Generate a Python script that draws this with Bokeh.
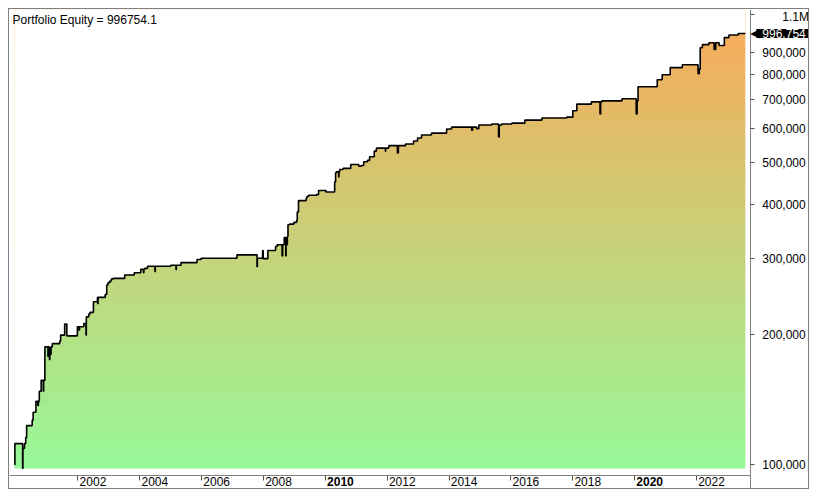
import numpy as np
from bokeh.plotting import figure
from bokeh.models import Range1d, FixedTicker, Label, LinearAxis, NumeralTickFormatter
from bokeh.embed import file_html
from bokeh.resources import INLINE

# ---- data (decimal year, portfolio equity) ----
dates = [
    1999.95, 1999.96, 2000.21, 2000.22, 2000.27, 2000.31, 2000.34, 2000.52, 2000.55, 2000.64,
    2000.70, 2000.72, 2000.75, 2000.81, 2000.88, 2000.89, 2000.93, 2001.03, 2001.04, 2001.08,
    2001.09, 2001.12, 2001.13, 2001.17, 2001.41, 2001.44, 2001.57, 2001.64, 2001.98, 2002.03,
    2002.05, 2002.19, 2002.26, 2002.27, 2002.35, 2002.39, 2002.50, 2002.63, 2002.64, 2002.65,
    2002.88, 2002.93, 2002.97, 2003.03, 2003.08, 2003.14, 2003.51, 2003.82, 2004.03, 2004.12,
    2004.13, 2004.16, 2004.25, 2004.49, 2004.50, 2005.00, 2005.17, 2005.18, 2005.33, 2005.85,
    2005.98, 2007.14, 2007.79, 2007.80, 2007.97, 2007.99, 2008.14, 2008.39, 2008.44, 2008.60,
    2008.62, 2008.67, 2008.72, 2008.73, 2008.77, 2008.79, 2008.84, 2008.98, 2009.07, 2009.09,
    2009.13, 2009.38, 2009.41, 2009.46, 2009.71, 2009.78, 2010.02, 2010.30, 2010.33, 2010.35,
    2010.43, 2010.44, 2010.46, 2010.57, 2010.82, 2011.08, 2011.16, 2011.24, 2011.36, 2011.43,
    2011.58, 2011.65, 2011.94, 2011.95, 2012.05, 2012.33, 2012.36, 2012.59, 2012.85, 2012.98,
    2013.11, 2013.43, 2013.92, 2014.08, 2014.73, 2014.76, 2014.89, 2014.96, 2015.38, 2015.60,
    2015.62, 2015.70, 2016.03, 2016.45, 2017.00, 2017.80, 2018.00, 2018.13, 2018.60, 2018.88,
    2018.90, 2018.94, 2019.59, 2020.05, 2020.08, 2020.11, 2020.73, 2020.89, 2021.15, 2021.54,
    2022.05, 2022.09, 2022.12, 2022.19, 2022.40, 2022.57, 2022.62, 2022.73, 2022.90, 2023.05,
    2023.35, 2023.58,
]
equity = [
    100000, 111900, 98000, 109100, 111900, 115600, 123200, 126800, 132300, 140200,
    137200, 140200, 147900, 156800, 147900, 156800, 187400, 178000, 187400, 175000,
    184000, 180000, 187400, 190700, 193400, 199600, 211700, 198800, 208700, 205000,
    208700, 212300, 199600, 220000, 223400, 225300, 238400, 244000, 236000, 244000,
    247900, 260800, 264000, 266400, 269300, 270100, 275000, 278400, 283400, 278400,
    283400, 284900, 288000, 280000, 288000, 289700, 283000, 289700, 293800, 298600,
    300700, 306200, 287500, 300700, 313300, 300000, 313300, 320100, 323100, 304500,
    323100, 335900, 304500, 323100, 337700, 359500, 360700, 364000, 367900, 384700,
    408900, 414600, 418400, 420600, 422200, 431400, 428000, 451800, 474100, 476500,
    463800, 476500, 482800, 485400, 495800, 491000, 493000, 502800, 506600, 516500,
    532300, 541000, 532000, 541000, 548000, 527000, 548000, 553000, 562000, 571000,
    580000, 586000, 599000, 605000, 595000, 605000, 600000, 612000, 615000, 574000,
    612000, 615000, 618000, 628000, 635000, 638000, 660000, 684000, 692000, 649000,
    692000, 696000, 704000, 649000, 696000, 750000, 779000, 800000, 831000, 844000,
    804000, 824000, 924000, 939000, 949000, 915000, 949000, 935000, 975000, 989000,
    996754, 996754,
]
final_equity = 996754.1

year_ticks = [2002, 2004, 2006, 2008, 2010, 2012, 2014, 2016, 2018, 2020, 2022]
bold_years = [2010, 2020]
value_ticks = [100000, 200000, 300000, 400000, 500000, 600000, 700000, 800000, 900000, 1100000]

FONT = "Liberation Sans"
X_START, X_SEP, X_END = 1999.786, 2023.741, 2025.686   # chart edge, value-axis line, panel edge
Y_START, Y_SEP, Y_END = 87150, 94430, 1132700            # panel edge, date-axis line, chart top
BASE = 98000
GRAD_BOTTOM = (152, 248, 152)
GRAD_TOP = (250, 168, 88)
PAD = "\u00a0"

p = figure(width=801, height=481, x_range=Range1d(X_START, X_END),
           y_range=Range1d(Y_START, Y_END), y_axis_type="log", y_axis_location="right",
           output_backend="svg", toolbar_location=None, min_border=0)
p.styles = {"border": "1px solid #808080", "margin": "8px 0 0 8px"}
p.outline_line_color = None
p.grid.visible = False
p.background_fill_color = "white"
p.border_fill_color = "white"

# gradient fill under the equity curve
n = 480
t = np.linspace(0.0, 1.0, n)
bot = np.array(GRAD_BOTTOM, dtype=float)
top = np.array(GRAD_TOP, dtype=float)
rgb = (bot[None, :] + (top - bot)[None, :] * t[:, None]).round().astype(np.uint8)
img = np.zeros((n, 1), dtype=np.uint32)
view = img.view(dtype=np.uint8).reshape((n, 1, 4))
view[:, 0, 0:3] = rgb
view[:, 0, 3] = 255
p.image_rgba(image=[img], x=dates[0], y=BASE, dw=dates[-1] - dates[0], dh=Y_END - BASE)

d = np.asarray(dates, dtype=float)
e = np.asarray(equity, dtype=float)
sx = np.repeat(d, 2)[1:]
sy = np.repeat(e, 2)[:-1]
p.varea(x=sx, y1=sy, y2=Y_END * 2, fill_color="white", fill_alpha=1.0)
p.line(x=sx, y=sy, line_color="black", line_width=1.6)


def style_date_axis(ax, years, bold):
    ax.fixed_location = Y_SEP
    ax.bounds = (X_START, X_SEP)
    ax.ticker = FixedTicker(ticks=years, minor_ticks=[])
    ax.major_label_overrides = {y: PAD * 9 + str(y) for y in years}
    ax.major_tick_in = 0
    ax.major_tick_out = 5
    ax.minor_tick_in = 0
    ax.minor_tick_out = 0
    ax.major_label_standoff = -5
    ax.major_label_text_font = FONT
    ax.major_label_text_font_size = "12px"
    ax.major_label_text_color = "black"
    ax.major_label_text_font_style = "bold" if bold else "normal"
    ax.axis_line_color = "#808080"
    ax.major_tick_line_color = "#505050"


# date axis (normal years) and a second one at the same place for the bold decade years
style_date_axis(p.xaxis[0], [y for y in year_ticks if y not in bold_years], False)
xb = LinearAxis()
style_date_axis(xb, bold_years, True)
p.add_layout(xb, "below")

# value axis, drawn at the right edge of the chart area
ya = p.yaxis[0]
ya.fixed_location = X_SEP
ya.ticker = FixedTicker(ticks=value_ticks, minor_ticks=[])
ya.formatter = NumeralTickFormatter(format="0,0")
ya.major_label_overrides = {1100000: PAD * 6 + "1.1M"}
ya.major_tick_in = 0
ya.major_tick_out = 4
ya.minor_tick_in = 0
ya.minor_tick_out = 0
ya.major_label_standoff = 8
ya.major_label_text_font = FONT
ya.major_label_text_font_size = "12px"
ya.major_label_text_color = "black"
ya.axis_line_color = "#808080"
ya.major_tick_line_color = "#505050"

# title inside the chart
p.add_layout(Label(x=3, y=478, x_units="screen", y_units="screen",
                   text=f"Portfolio Equity = {final_equity}", text_baseline="top",
                   text_font=FONT, text_font_size="12px", text_color="black"))

# last value marker on the value axis
p.add_layout(Label(x=X_SEP, y=equity[-1], x_offset=6, text=f"{equity[-1]:,}",
                   text_baseline="middle", text_align="left",
                   text_font=FONT, text_font_size="12px", text_color="white",
                   background_fill_color="black",
                   padding=dict(left=6, right=3, top=0, bottom=0)))
p.add_layout(Label(x=X_SEP, y=equity[-1], x_offset=0, text="\u25c0",
                   text_baseline="middle", text_align="left",
                   text_font="DejaVu Sans", text_font_size="12px", text_color="black"))

open("out.html", "w").write(file_html(p, INLINE))
